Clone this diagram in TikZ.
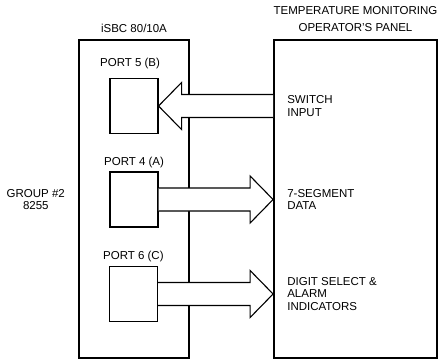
\documentclass[tikz,border=0pt]{standalone}
\usepackage{fontspec}
\setmainfont{Liberation Sans}
\usetikzlibrary{calc,positioning}
\tikzset{
    %Define standard boxes
    unit/.style={
      rectangle,
      draw=black, line width=1.8pt,
      minimum height=318pt,
      inner sep=0pt},
    port/.style={
      rectangle,
      draw=black, line width=1.1pt,
      minimum width=48pt,
      minimum height=55pt,
      inner sep=0pt},
    lbl/.style={
      inner sep=0pt,
      font=\fontsize{11.5}{12.8}\selectfont},
    bus/.style={
      draw=black, line width=1.1pt,
      fill=white,
      line join=miter}
}

\begin{document}
\begin{tikzpicture}[x=1pt,y=-1pt]
\useasboundingbox (0,0) rectangle (441,362);
\node[unit, minimum width=110pt] (sbc) at (134,199) {};
\node[unit, minimum width=163pt] (panel) at (355.5,199) {};
\node[port] (p5) at (134,106) {};
\node[port] (p4) at (134,199.5) {};
\node[port] (p6) at (133.5,294) {};
% fat bus arrows
\draw[bus] ($(panel.west |- p5.east)+(0,-11.5)$) -- ($(p5.east)+(23,-11.5)$) -- ++(0,-12)
  -- (p5.east) -- ++(23,23.5) -- ++(0,-12) -- ($(panel.west |- p5.east)+(0,11.5)$);
\foreach \p in {p4,p6}
  \draw[bus] ($(\p.east)+(0,-11.5)$) -- ($(panel.west |- \p.east)+(-23,-11.5)$) -- ++(0,-12)
    -- (panel.west |- \p.east) -- ++(-23,23.5) -- ++(0,-12) -- ($(\p.east)+(0,11.5)$);
% titles
\node[lbl, anchor=base] at ([yshift=7pt]sbc.north) {iSBC 80/10A};
\node[lbl, anchor=south, align=center] at ([yshift=7pt]panel.north) {TEMPERATURE MONITORING\\[4pt]OPERATOR'S PANEL};
\node[lbl, anchor=base west] at ([xshift=-9.5pt,yshift=11pt]p5.north west) {PORT 5 (B)};
\node[lbl, anchor=base west] at ([xshift=-5.5pt,yshift=5.5pt]p4.north west) {PORT 4 (A)};
\node[lbl, anchor=base west] at ([xshift=-6pt,yshift=6.5pt]p6.north west) {PORT 6 (C)};
\node[lbl, anchor=east, align=center] at ($(sbc.west |- p4.east)+(-13,0)$) {GROUP \#2\\8255};
\node[lbl, anchor=west, align=left] at ($(panel.west |- p5.east)+(14,0)$) {SWITCH\\INPUT};
\node[lbl, anchor=west, align=left] at ($(panel.west |- p4.east)+(14,0)$) {7-SEGMENT\\DATA};
\node[lbl, anchor=west, align=left] at ($(panel.west |- p6.east)+(14,0)$) {DIGIT SELECT \&\\ALARM\\INDICATORS};
\end{tikzpicture}
\end{document}
